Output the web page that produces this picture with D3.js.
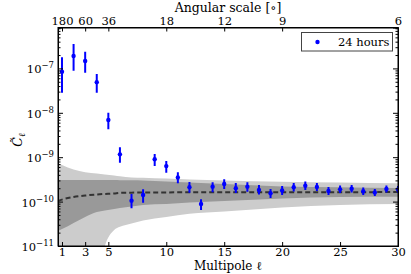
<!DOCTYPE html>
<html>
<head>
<meta charset="utf-8">
<script src="https://cdn.jsdelivr.net/npm/d3@7"></script>
<style>
body { margin: 0; background: #fff; }
text { font-family: "DejaVu Serif", serif; }
</style>
</head>
<body>
<svg width="411" height="274"></svg>
<script>
var svg = d3.select('svg');

// multipoles and measured power (24 hours)
var ells = [1, 2, 3, 4, 5, 6, 7, 8, 9, 10, 11, 12, 13, 14, 15, 16, 17, 18, 19, 20, 21, 22, 23, 24, 25, 26, 27, 28, 29, 30];
var cl = [8.4e-8, 1.9e-7, 1.47e-7, 4.9e-8, 6.9e-9, 1.16e-9, 1.05e-10, 1.41e-10, 9.0e-10, 6.3e-10,
    3.5e-10, 2.1e-10, 8.8e-11, 2.17e-10, 2.49e-10, 2.0e-10, 2.17e-10, 1.82e-10, 1.54e-10, 1.78e-10,
    2.1e-10, 2.28e-10, 2.13e-10, 1.73e-10, 1.89e-10, 1.95e-10, 1.71e-10, 1.6e-10, 1.92e-10, 1.87e-10];
var clHi = [1.78e-7, 3.55e-7, 2.38e-7, 7.5e-8, 1.0e-8, 1.67e-9, 1.48e-10, 1.89e-10, 1.18e-9, 8.2e-10,
    4.57e-10, 2.76e-10, 1.13e-10, 2.72e-10, 3.18e-10, 2.62e-10, 2.72e-10, 2.36e-10, 1.92e-10, 2.25e-10,
    2.62e-10, 2.84e-10, 2.62e-10, 2.13e-10, 2.3e-10, 2.36e-10, 2.08e-10, 1.92e-10, 2.3e-10, 2.25e-10];
var clLo = [2.84e-8, 8.9e-8, 8.0e-8, 2.84e-8, 4.25e-9, 7.5e-10, 7.1e-11, 9.4e-11, 6.3e-10, 4.48e-10,
    2.58e-10, 1.59e-10, 6.5e-11, 1.62e-10, 1.92e-10, 1.56e-10, 1.67e-10, 1.45e-10, 1.2e-10, 1.41e-10,
    1.69e-10, 1.82e-10, 1.73e-10, 1.41e-10, 1.56e-10, 1.6e-10, 1.41e-10, 1.33e-10, 1.6e-10, 1.56e-10];

// expected spectrum and the two variance bands
var bandEll = [0.65, 1, 2, 3, 4, 4.7, 5.5, 6, 7, 8, 10, 12, 15, 20, 25, 30];
var outerHi = [7.4e-10, 6.7e-10, 5.3e-10, 4.6e-10, 4.3e-10, 4.1e-10, 3.85e-10, 3.7e-10, 3.5e-10, 3.45e-10, 3.3e-10, 3.15e-10, 2.99e-10, 2.81e-10, 2.69e-10, 2.58e-10];
var outerLo = [1e-13, 1e-13, 1e-13, 1e-13, 1.5e-12, 1e-11, 2.3e-11, 2.7e-11, 3.2e-11, 3.75e-11, 4.5e-11, 5.3e-11, 6.0e-11, 7.4e-11, 8.4e-11, 8.8e-11];
var innerHi = [3.06e-10, 3.06e-10, 3.06e-10, 3.06e-10, 3.06e-10, 3.06e-10, 3.06e-10, 3.04e-10, 3.02e-10, 2.99e-10, 2.84e-10, 2.69e-10, 2.49e-10, 2.19e-10, 2.1e-10, 2.02e-10];
var innerLo = [2.18e-11, 2.4e-11, 3.3e-11, 4.5e-11, 5.8e-11, 6.3e-11, 6.8e-11, 7.2e-11, 7.8e-11, 8.4e-11, 8.8e-11, 9.5e-11, 1.03e-10, 1.18e-10, 1.27e-10, 1.29e-10];
var theory = [1.03e-10, 1.11e-10, 1.27e-10, 1.37e-10, 1.45e-10, 1.49e-10, 1.53e-10, 1.57e-10, 1.59e-10, 1.6e-10, 1.61e-10, 1.62e-10, 1.62e-10, 1.63e-10, 1.63e-10, 1.64e-10];

// tick labels
var xTicks = [1, 3, 5, 10, 15, 20, 25, 30];
var topTicks = [1, 3, 5, 10, 15, 20, 30];
var topLabels = ['180', '60', '36', '18', '12', '9', '6'];
var yDecades = [-11, -10, -9, -8, -7];

var padL = 58, padR = 398, padT = 27.5, padB = 246;

var x = d3.scaleLinear().domain([0.655, 30]).range([padL, padR]);
var y = d3.scaleLog().domain([1e-11, 8.34e-7]).range([padB, padT]);

svg.append('clipPath').attr('id', 'clip')
    .append('rect').attr('x', padL).attr('y', padT).attr('width', padR - padL).attr('height', padB - padT);

var plot = svg.append('g').attr('clip-path', 'url(#clip)');

function band(hi, lo) {
    return d3.area()
        .x(function (d, i) { return x(bandEll[i]); })
        .y0(function (d, i) { return y(lo[i]); })
        .y1(function (d, i) { return y(hi[i]); })
        .curve(d3.curveMonotoneX)(bandEll);
}

plot.append('path').attr('d', band(outerHi, outerLo)).attr('fill', '#cccccc');
plot.append('path').attr('d', band(innerHi, innerLo)).attr('fill', '#999999');

plot.append('path')
    .attr('d', d3.line()
        .x(function (d, i) { return x(bandEll[i]); })
        .y(function (d) { return y(d); })
        .curve(d3.curveMonotoneX)(theory))
    .attr('fill', 'none')
    .attr('stroke', '#333')
    .attr('stroke-width', 2)
    .attr('stroke-dasharray', '5,3');

// error bars and points
plot.selectAll('line.err')
    .data(ells)
    .enter()
    .append('line')
    .attr('class', 'err')
    .attr('x1', function (d) { return x(d); })
    .attr('x2', function (d) { return x(d); })
    .attr('y1', function (d, i) { return y(clLo[i]); })
    .attr('y2', function (d, i) { return y(clHi[i]); })
    .attr('stroke', '#0000ff')
    .attr('stroke-width', 2);

plot.selectAll('circle.pt')
    .data(ells)
    .enter()
    .append('circle')
    .attr('class', 'pt')
    .attr('cx', function (d) { return x(d); })
    .attr('cy', function (d, i) { return y(cl[i]); })
    .attr('r', 2.2)
    .attr('fill', '#0000ff');

// axes
svg.append('g')
    .attr('transform', 'translate(0,' + padB + ')')
    .call(d3.axisBottom(x).tickValues(xTicks).tickSize(-4).tickPadding(2).tickFormat(d3.format('d')));

svg.append('g')
    .attr('transform', 'translate(0,' + padT + ')')
    .call(d3.axisTop(x).tickValues(topTicks).tickSize(-4).tickPadding(3)
        .tickFormat(function (d, i) { return topLabels[i]; }));

var minor = [];
yDecades.forEach(function (k) {
    [2, 3, 4, 5, 6, 7, 8, 9].forEach(function (m) {
        var v = m * Math.pow(10, k);
        if (v < 8.34e-7) minor.push(v);
    });
});
var majors = yDecades.map(function (k) { return Math.pow(10, k); });

var leftAxis = svg.append('g')
    .attr('transform', 'translate(' + padL + ',0)')
    .call(d3.axisLeft(y).tickValues(majors).tickSize(-5).tickFormat(''));
svg.append('g')
    .attr('transform', 'translate(' + padL + ',0)')
    .call(d3.axisLeft(y).tickValues(minor).tickSize(-2.5).tickFormat(''));
svg.append('g')
    .attr('transform', 'translate(' + padR + ',0)')
    .call(d3.axisRight(y).tickValues(majors).tickSize(-5).tickFormat(''));
svg.append('g')
    .attr('transform', 'translate(' + padR + ',0)')
    .call(d3.axisRight(y).tickValues(minor).tickSize(-2.5).tickFormat(''));

svg.selectAll('.domain').attr('stroke', '#000');
svg.selectAll('.tick line').attr('stroke', '#000');
svg.selectAll('.tick text').attr('font-family', '"DejaVu Serif", serif').attr('font-size', 11.5).attr('fill', '#000');

// y tick labels 10^k
leftAxis.selectAll('.tick').each(function (d, i) {
    var t = d3.select(this).append('text')
        .attr('x', -4)
        .attr('y', 4.5)
        .attr('text-anchor', 'end')
        .attr('font-family', '"DejaVu Serif", serif')
        .attr('font-size', 11.5)
        .attr('fill', '#000');
    t.append('tspan').text('10');
    t.append('tspan').attr('font-size', 8.5).attr('dy', -5).text('\u2212' + (-yDecades[i]));
});

// frame
svg.append('rect')
    .attr('x', padL).attr('y', padT)
    .attr('width', padR - padL).attr('height', padB - padT)
    .attr('fill', 'none').attr('stroke', '#000').attr('stroke-width', 1);

// axis titles
svg.append('text')
    .attr('x', (padL + padR) / 2).attr('y', 269.5)
    .attr('text-anchor', 'middle').attr('font-size', 12)
    .text('Multipole \u2113');

svg.append('text')
    .attr('x', (padL + padR) / 2).attr('y', 11.5)
    .attr('text-anchor', 'middle').attr('font-size', 12.5)
    .text('Angular scale [\u2218]');

var yl = svg.append('text')
    .attr('transform', 'translate(22,140) rotate(-90)')
    .attr('text-anchor', 'middle').attr('font-size', 12.5);
yl.append('tspan').attr('font-style', 'italic').text('C\u0303');
yl.append('tspan').attr('font-style', 'italic').attr('font-size', 9).attr('dy', 3).text('\u2113');

// legend
var legend = svg.append('g');
legend.append('rect')
    .attr('x', 301.5).attr('y', 32.5).attr('width', 91).attr('height', 18.5)
    .attr('fill', '#fff').attr('stroke', '#444').attr('stroke-width', 1);
legend.append('circle').attr('cx', 317.5).attr('cy', 42).attr('r', 2.2).attr('fill', '#0000ff');
legend.append('text').attr('x', 338).attr('y', 46).attr('font-size', 11.5).text('24 hours');
</script>
</body>
</html>
